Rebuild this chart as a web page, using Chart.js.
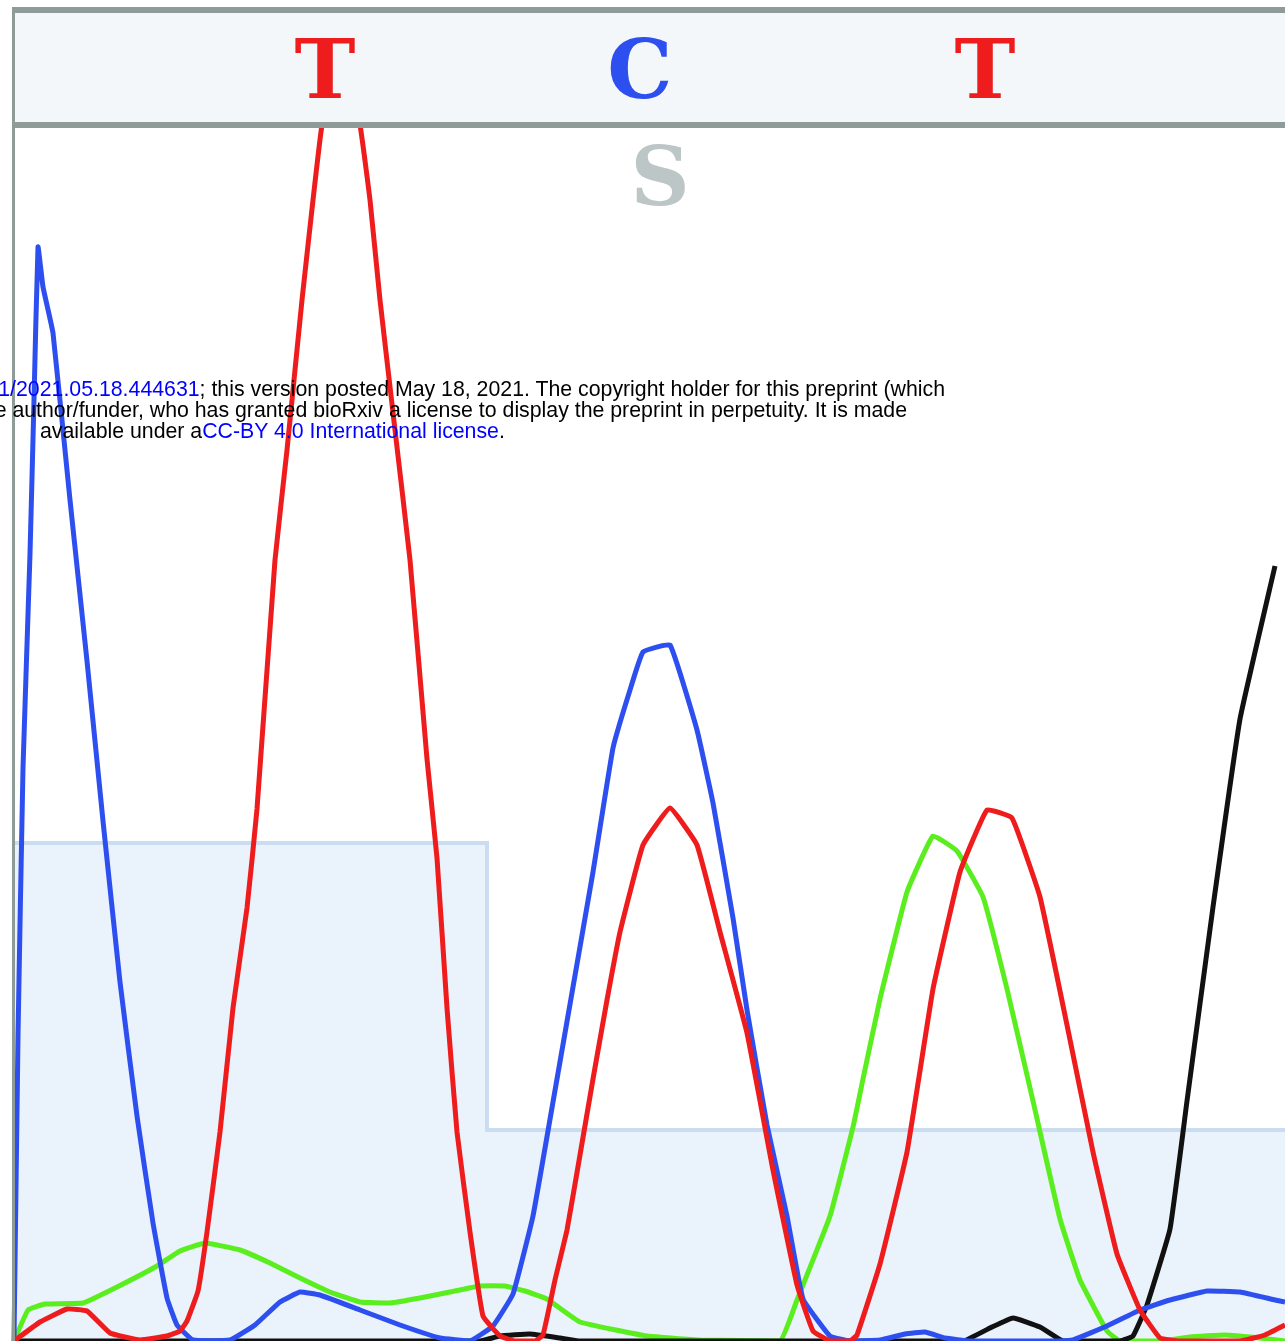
<!DOCTYPE html>
<html>
<head>
<meta charset="utf-8">
<script src="https://cdn.jsdelivr.net/npm/chart.js@4"></script>
<style>
  html, body { margin: 0; padding: 0; background: #fff; }
  #page { position: relative; width: 1285px; height: 1341px; overflow: hidden; }
  #box { position: absolute; left: 0; top: 0; width: 1285px; height: 1341px; }
  .hdr { position: absolute; left: 12px; right: -10px; top: 7px; height: 109px;
         background: #f4f7fa; border-top: 6px solid #8f9b99; border-bottom: 6px solid #8f9b99; }
  .vline { position: absolute; left: 12px; top: 7px; width: 3px; bottom: 0; background: #8f9b99; }
  .base { position: absolute; transform: translateX(-50%); font-family: 'DejaVu Serif', serif;
          font-weight: bold; font-size: 82px; line-height: 82px; }
  .wm { position: absolute; font-family: 'Liberation Sans', Arial, sans-serif; font-size: 21.3px;
        line-height: 21px; white-space: nowrap; color: #000; }
  .wm a { color: #0000ff; text-decoration: none; }
</style>
</head>
<body>
<div id="page">
  <div id="box"><canvas id="trace"></canvas></div>
  <div class="hdr"></div>
  <div class="vline"></div>
  <div class="base" style="left:325px; top:28px; color:#ee1c1c;">T</div>
  <div class="base" style="left:640px; top:28px; color:#2d4ff0;">C</div>
  <div class="base" style="left:985px; top:28px; color:#ee1c1c;">T</div>
  <div class="base" style="left:660px; top:135px; color:#bcc6c6;">S</div>
  <div class="wm" style="right:340px; top:379px;"><a>1/2021.05.18.444631</a>; this version posted May 18, 2021. The copyright holder for this preprint (which</div>
  <div class="wm" style="right:378px; top:400px;">e author/funder, who has granted bioRxiv a license to display the preprint in perpetuity. It is made</div>
  <div class="wm" style="left:40px; top:421px;">available under a<a>CC-BY 4.0 International license</a>.</div>
</div>
<script>
// ── Trace data (scan position / signal) ───────────────────
const scanA = [14, 28, 45, 83, 117, 157, 180, 205, 240, 270, 300, 330, 360, 390, 420, 450, 480, 505, 525, 547, 580, 647, 700, 780, 797, 830, 853, 863, 880, 907, 933, 957, 983, 1007, 1033, 1060, 1080, 1107, 1120, 1160, 1190, 1225, 1260, 1285];
const sigA  = [0, 31, 37, 38, 54, 75, 90, 98, 91, 78, 63, 49, 39, 38, 43, 49, 55, 55, 50, 42, 19, 5, 1, 0, 41, 125, 214, 262, 342, 449, 505, 490, 444, 352, 240, 122, 61, 10, 0, 0, 4, 6, 3, 0];

const scanC = [14, 18, 23, 30, 34, 38, 43, 53, 70, 87, 103, 120, 137, 153, 167, 177, 193, 230, 255, 280, 300, 320, 360, 400, 440, 470, 493, 513, 533, 553, 573, 593, 613, 630, 643, 670, 697, 713, 733, 747, 767, 787, 803, 830, 850, 880, 905, 925, 945, 970, 1060, 1073, 1107, 1140, 1170, 1207, 1240, 1275, 1285];
const sigC  = [0, 305, 573, 787, 941, 1094, 1054, 1008, 841, 680, 520, 359, 225, 118, 43, 16, 1, 1, 16, 39, 49, 46, 31, 16, 3, 0, 15, 47, 125, 239, 354, 469, 593, 651, 689, 696, 611, 538, 423, 331, 216, 125, 42, 5, 0, 1, 7, 9, 3, 0, 0, 1, 15, 31, 41, 50, 49, 41, 39];

const scanG = [14, 480, 500, 530, 560, 580, 963, 990, 1013, 1040, 1063, 1120, 1133, 1147, 1170, 1187, 1213, 1240, 1275];
const sigG  = [0, 0, 5, 7, 3, 0, 0, 13, 23, 14, 0, 0, 5, 36, 112, 240, 434, 622, 775];

const scanT = [14, 40, 67, 87, 110, 140, 167, 180, 187, 198, 207, 220, 233, 247, 257, 275, 287, 302, 313, 322, 341, 360, 370, 380, 395, 410, 427, 437, 447, 457, 470, 483, 500, 515, 535, 543, 555, 567, 580, 593, 607, 620, 643, 670, 697, 720, 747, 773, 797, 813, 830, 850, 857, 880, 907, 933, 960, 987, 1012, 1040, 1067, 1093, 1117, 1140, 1160, 1180, 1240, 1265, 1285];
const sigT  = [0, 19, 32, 30, 8, 1, 5, 10, 20, 50, 109, 209, 333, 433, 532, 781, 891, 1041, 1141, 1216, 1286, 1216, 1141, 1041, 911, 781, 582, 483, 333, 209, 109, 25, 5, 0, 0, 6, 61, 111, 186, 262, 341, 409, 496, 533, 496, 409, 308, 171, 56, 10, 0, 0, 6, 77, 189, 352, 469, 531, 523, 444, 316, 189, 87, 31, 3, 0, 0, 6, 16];

// quality bars (step outline)
const qualScan = [14, 487, 1285];
const qualVal  = [498, 211, 211];

const pts = (xs, ys) => xs.map((x, i) => ({ x, y: ys[i] }));

function traceSet(label, xs, ys, color, order) {
  return {
    label, data: pts(xs, ys), borderColor: color, borderWidth: 5,
    pointRadius: 0, tension: 0.1, fill: false, order
  };
}

new Chart(document.getElementById('trace'), {
  type: 'line',
  data: {
    datasets: [
      {
        label: 'QV', data: pts(qualScan, qualVal), stepped: 'before',
        borderColor: '#c9dcf0', borderWidth: 4, backgroundColor: '#eaf2fb',
        fill: 'origin', pointRadius: 0, order: 10
      },
      traceSet('A', scanA, sigA, '#5aee1e', 4),
      traceSet('G', scanG, sigG, '#111111', 3),
      traceSet('C', scanC, sigC, '#2d4ff0', 2),
      traceSet('T', scanT, sigT, '#ee1c1c', 1)
    ]
  },
  options: {
    responsive: true,
    maintainAspectRatio: false,
    animation: false,
    layout: { padding: { top: 125, left: 0, right: 0, bottom: 0 } },
    plugins: { legend: { display: false }, tooltip: { enabled: false } },
    scales: {
      x: { type: 'linear', min: 0, max: 1285, display: false },
      y: { min: 0, max: 1216, display: false }
    }
  }
});
</script>
</body>
</html>
